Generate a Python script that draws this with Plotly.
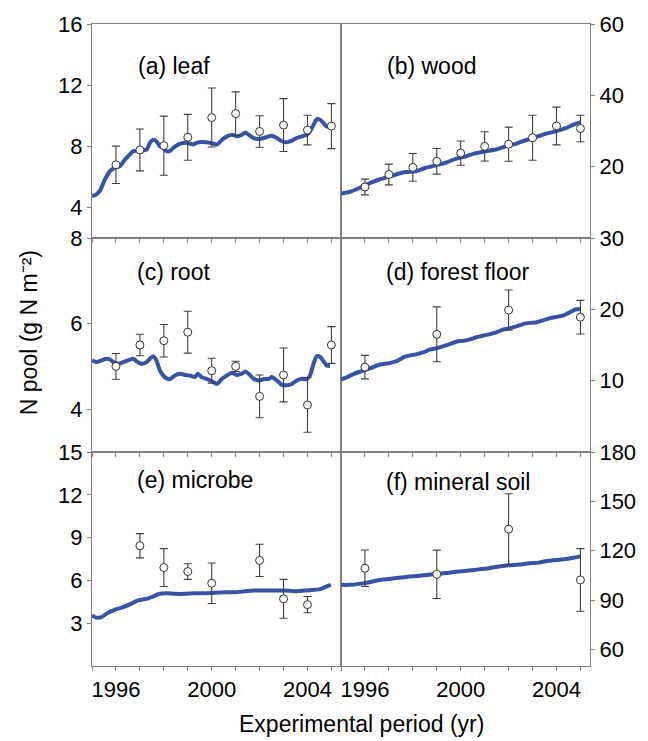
import plotly.graph_objects as go
from plotly.subplots import make_subplots

# ---------------- data ----------------
leaf_model_yr = [1995.0, 1995.125, 1995.33, 1995.54, 1995.75, 1995.96, 1996.17, 1996.38, 1996.58, 1996.72,
                 1996.93, 1997.14, 1997.28, 1997.42, 1997.55, 1997.69, 1997.83, 1997.97, 1998.11, 1998.25,
                 1998.39, 1998.6, 1998.8, 1999.01, 1999.22, 1999.36, 1999.57, 1999.78, 2000.0, 2000.22,
                 2000.43, 2000.64, 2000.85, 2001.05, 2001.26, 2001.4, 2001.54, 2001.75, 2001.96, 2002.17,
                 2002.38, 2002.51, 2002.72, 2002.93, 2003.14, 2003.35, 2003.55, 2003.76, 2003.97, 2004.11,
                 2004.25, 2004.39, 2004.53, 2004.67, 2004.8, 2004.94]
leaf_model = [4.76, 4.80, 5.09, 5.84, 6.38, 6.60, 6.71, 7.14, 7.46, 7.68,
              7.68, 7.74, 7.78, 8.22, 8.43, 8.33, 8.0, 7.89, 7.68, 7.68,
              7.89, 8.11, 8.22, 8.22, 8.11, 8.22, 8.28, 8.26, 8.2, 8.11,
              8.43, 8.65, 8.76, 8.65, 8.76, 8.91, 8.76, 8.54, 8.48, 8.54,
              8.65, 8.69, 8.54, 8.33, 8.26, 8.37, 8.54, 8.65, 8.76, 8.98,
              9.4, 9.77, 9.73, 9.51, 9.3, 9.3]
leaf_obs_yr = [1996, 1997, 1998, 1999, 2000, 2001, 2002, 2003, 2004, 2005]
leaf_obs = [6.79, 7.76, 8.04, 8.59, 9.88, 10.14, 8.97, 9.39, 9.06, 9.32]
leaf_err = [1.22, 1.37, 1.93, 1.5, 1.93, 1.42, 1.03, 1.73, 0.97, 1.47]

wood_model_yr = [1995.0, 1995.35, 1995.63, 1995.97, 1996.25, 1996.6, 1997.01, 1997.29, 1997.71, 1998.13,
                 1998.54, 1998.96, 1999.38, 1999.79, 2000.21, 2000.63, 2001.04, 2001.46, 2001.88, 2002.29,
                 2002.71, 2003.13, 2003.54, 2003.96, 2004.38, 2004.79, 2005.0]
wood_model = [12.5, 12.9, 13.6, 14.7, 15.5, 16.4, 17.2, 17.8, 18.5, 18.7,
              19.7, 20.4, 21.1, 22.2, 22.9, 23.8, 24.3, 24.8, 25.7, 26.4,
              27.4, 28.3, 29.2, 29.9, 30.8, 32.0, 32.4]
wood_obs_yr = [1996, 1997, 1998, 1999, 2000, 2001, 2002, 2003, 2004, 2005]
wood_obs = [14.3, 17.8, 19.8, 21.5, 23.8, 25.7, 26.3, 28.1, 31.4, 30.7]
wood_err = [2.2, 2.9, 3.9, 3.6, 3.4, 4.1, 4.8, 6.3, 5.3, 3.7]

root_model_yr = [1995.0, 1995.19, 1995.4, 1995.61, 1995.75, 1995.89, 1996.1, 1996.3, 1996.51, 1996.72,
                 1996.86, 1997.07, 1997.28, 1997.42, 1997.55, 1997.69, 1997.83, 1998.04, 1998.25, 1998.46,
                 1998.67, 1998.88, 1999.08, 1999.29, 1999.43, 1999.57, 1999.78, 2000.0, 2000.22, 2000.43,
                 2000.64, 2000.85, 2001.05, 2001.26, 2001.4, 2001.54, 2001.75, 2001.96, 2002.17, 2002.38,
                 2002.51, 2002.72, 2002.93, 2003.14, 2003.35, 2003.55, 2003.76, 2003.97, 2004.11, 2004.25,
                 2004.39, 2004.53, 2004.67, 2004.8, 2004.94]
root_model = [5.14, 5.10, 5.14, 5.18, 5.16, 5.10, 5.06, 5.10, 5.14, 5.18,
              5.12, 5.06, 5.10, 5.18, 5.24, 5.14, 4.91, 4.75, 4.70, 4.79,
              4.83, 4.80, 4.79, 4.75, 4.83, 4.75, 4.71, 4.66, 4.59, 4.71,
              4.79, 4.85, 4.80, 4.83, 4.88, 4.83, 4.71, 4.67, 4.70, 4.71,
              4.75, 4.67, 4.57, 4.56, 4.59, 4.67, 4.71, 4.70, 4.79, 5.06,
              5.24, 5.22, 5.12, 5.02, 5.01]
root_obs_yr = [1996, 1997, 1998, 1999, 2000, 2001, 2002, 2003, 2004, 2005]
root_obs = [5.0, 5.5, 5.6, 5.8, 4.9, 5.0, 4.3, 4.8, 4.1, 5.5]
root_err = [0.3, 0.25, 0.38, 0.49, 0.29, 0.12, 0.5, 0.63, 0.64, 0.43]

ff_model_yr = [1995.0, 1995.26, 1995.54, 1995.96, 1996.23, 1996.51, 1996.79, 1997.07, 1997.35, 1997.63,
               1997.9, 1998.18, 1998.46, 1998.73, 1999.01, 1999.29, 1999.57, 1999.85, 2000.13, 2000.4,
               2000.68, 2000.96, 2001.23, 2001.51, 2001.79, 2002.07, 2002.35, 2002.63, 2002.9, 2003.18,
               2003.46, 2003.73, 2004.01, 2004.29, 2004.57, 2004.78, 2004.98]
ff_model = [10.17, 10.5, 10.96, 11.43, 11.76, 12.13, 12.36, 12.5, 12.78, 13.3,
            13.54, 13.72, 14.0, 14.38, 14.56, 14.84, 15.16, 15.5, 15.58, 15.78,
            16.1, 16.34, 16.52, 16.8, 17.18, 17.36, 17.64, 17.96, 18.1, 18.2,
            18.48, 18.76, 18.94, 19.14, 19.6, 19.98, 20.06]
ff_obs_yr = [1996, 1999, 2002, 2005]
ff_obs = [11.9, 16.5, 19.9, 18.9]
ff_err = [1.65, 3.85, 2.8, 2.35]

mic_model_yr = [1995.0, 1995.19, 1995.4, 1995.61, 1995.89, 1996.23, 1996.58, 1996.93, 1997.28, 1997.55,
                1997.83, 1998.11, 1998.46, 1998.88, 1999.29, 1999.71, 2000.13, 2000.54, 2000.96, 2001.38,
                2001.79, 2002.21, 2002.63, 2003.04, 2003.46, 2003.88, 2004.29, 2004.57, 2004.78, 2004.98]
mic_model = [3.55, 3.39, 3.43, 3.67, 3.9, 4.09, 4.32, 4.6, 4.71, 4.87,
             5.06, 5.1, 5.06, 5.06, 5.1, 5.1, 5.13, 5.17, 5.17, 5.24,
             5.29, 5.29, 5.29, 5.29, 5.24, 5.29, 5.34, 5.41, 5.57, 5.69]
mic_obs_yr = [1997, 1998, 1999, 2000, 2002, 2003, 2004]
mic_obs = [8.43, 6.9, 6.62, 5.8, 7.4, 4.71, 4.3]
mic_err = [0.85, 1.33, 0.55, 1.42, 1.13, 1.36, 0.57]

soil_model_yr = [1995.0, 1995.35, 1995.76, 1996.18, 1996.6, 1997.01, 1997.43, 1997.85, 1998.26, 1998.68,
                 1999.1, 1999.51, 1999.93, 2000.35, 2000.76, 2001.18, 2001.6, 2002.01, 2002.43, 2002.85,
                 2003.26, 2003.68, 2004.1, 2004.5, 2004.79, 2005.0]
soil_model = [99.3, 99.3, 99.9, 100.9, 102.3, 102.9, 103.6, 104.3, 104.8, 105.5,
              106.0, 106.7, 107.4, 108.0, 108.7, 109.4, 110.4, 111.2, 111.6, 112.4,
              112.8, 114.0, 114.6, 115.2, 116.0, 116.6]
soil_obs_yr = [1996, 1999, 2002, 2005]
soil_obs = [109.4, 105.7, 133.1, 102.3]
soil_err = [11.1, 14.7, 21.5, 19.0]

panel_labels = ["(a) leaf", "(b) wood", "(c) root", "(d) forest floor", "(e) microbe", "(f) mineral soil"]
y_title = "N pool (g N m\u207b\u00b2)"
x_title = "Experimental period (yr)"
y_ranges = [[2, 16], [0, 60], [3, 8], [0, 30], [0, 15], [50, 180]]
y_ticks = [[4, 8, 12, 16], [20, 40, 60], [4, 6, 8], [10, 20, 30], [3, 6, 9, 12, 15], [60, 90, 120, 150, 180]]
x_major_vals = [1996, 2000, 2004]
x_major_text = ["1996", "2000", "2004"]
x_minor_step = 1
x_range = [1995, 2005.4]

panels = [
    (leaf_model_yr, leaf_model, leaf_obs_yr, leaf_obs, leaf_err),
    (wood_model_yr, wood_model, wood_obs_yr, wood_obs, wood_err),
    (root_model_yr, root_model, root_obs_yr, root_obs, root_err),
    (ff_model_yr, ff_model, ff_obs_yr, ff_obs, ff_err),
    (mic_model_yr, mic_model, mic_obs_yr, mic_obs, mic_err),
    (soil_model_yr, soil_model, soil_obs_yr, soil_obs, soil_err),
]

# ---------------- figure ----------------
W, H = 648, 741
ML, MR, MT, MB = 92, 57, 20, 75
FONT = "Liberation Sans, Arial, sans-serif"
LINE_BLUE = "#3953A4"
AX_GREY = "#808080"

fig = make_subplots(rows=3, cols=2, horizontal_spacing=0, vertical_spacing=0)

for i, (myr, mv, oyr, ov, oe) in enumerate(panels):
    r, c = i // 2 + 1, i % 2 + 1
    fig.add_trace(go.Scatter(x=myr, y=mv, mode="lines",
                             line=dict(color=LINE_BLUE, width=4, shape="spline", smoothing=0.6),
                             showlegend=False, hoverinfo="skip"), row=r, col=c)
    fig.add_trace(go.Scatter(x=oyr, y=ov, mode="markers",
                             marker=dict(symbol="circle", size=8, color="white",
                                         line=dict(color="#333333", width=1)),
                             error_y=dict(type="data", array=oe, visible=True,
                                          color="#404040", thickness=1.1, width=4),
                             showlegend=False), row=r, col=c)

    fig.update_xaxes(range=x_range, tickvals=x_major_vals, ticktext=x_major_text,
                     showticklabels=(r == 3), ticks="outside", ticklen=4, tickcolor=AX_GREY,
                     minor=dict(tick0=1995, dtick=x_minor_step, ticks="outside", ticklen=4,
                                tickcolor=AX_GREY, showgrid=False),
                     showline=True, linecolor=AX_GREY, linewidth=1, mirror=True,
                     showgrid=False, zeroline=False, row=r, col=c)
    fig.update_yaxes(range=y_ranges[i], tickvals=y_ticks[i], ticks="outside", ticklen=4,
                     tickcolor=AX_GREY, showline=True, linecolor=AX_GREY, linewidth=1,
                     mirror=True, showgrid=False, zeroline=False,
                     side=("left" if c == 1 else "right"), row=r, col=c)

# panel labels (positions in pixels converted to paper coords)
pw, ph = W - ML - MR, H - MT - MB
label_px = [(136, 62), (386, 62), (135, 270), (385, 270), (135, 479), (385, 481)]
for txt, (px, py) in zip(panel_labels, label_px):
    fig.add_annotation(text=txt, x=(px - ML) / pw, y=(H - MB - py) / ph,
                       xref="paper", yref="paper", xanchor="left", yanchor="middle",
                       showarrow=False, font=dict(size=23, family=FONT, color="black"))

# axis titles
fig.add_annotation(text=y_title, x=(29 - ML) / pw, y=(H - MB - 331) / ph,
                   xref="paper", yref="paper", textangle=-90, showarrow=False,
                   xanchor="center", yanchor="middle",
                   font=dict(size=23, family=FONT, color="black"))
fig.add_annotation(text=x_title, x=(362 - ML) / pw, y=(H - MB - 724) / ph,
                   xref="paper", yref="paper", showarrow=False,
                   xanchor="center", yanchor="middle",
                   font=dict(size=23, family=FONT, color="black"))

fig.update_layout(width=W, height=H, margin=dict(l=ML, r=MR, t=MT, b=MB),
                  paper_bgcolor="white", plot_bgcolor="white",
                  font=dict(family=FONT, size=22, color="black"))

fig.write_html("out.html")
